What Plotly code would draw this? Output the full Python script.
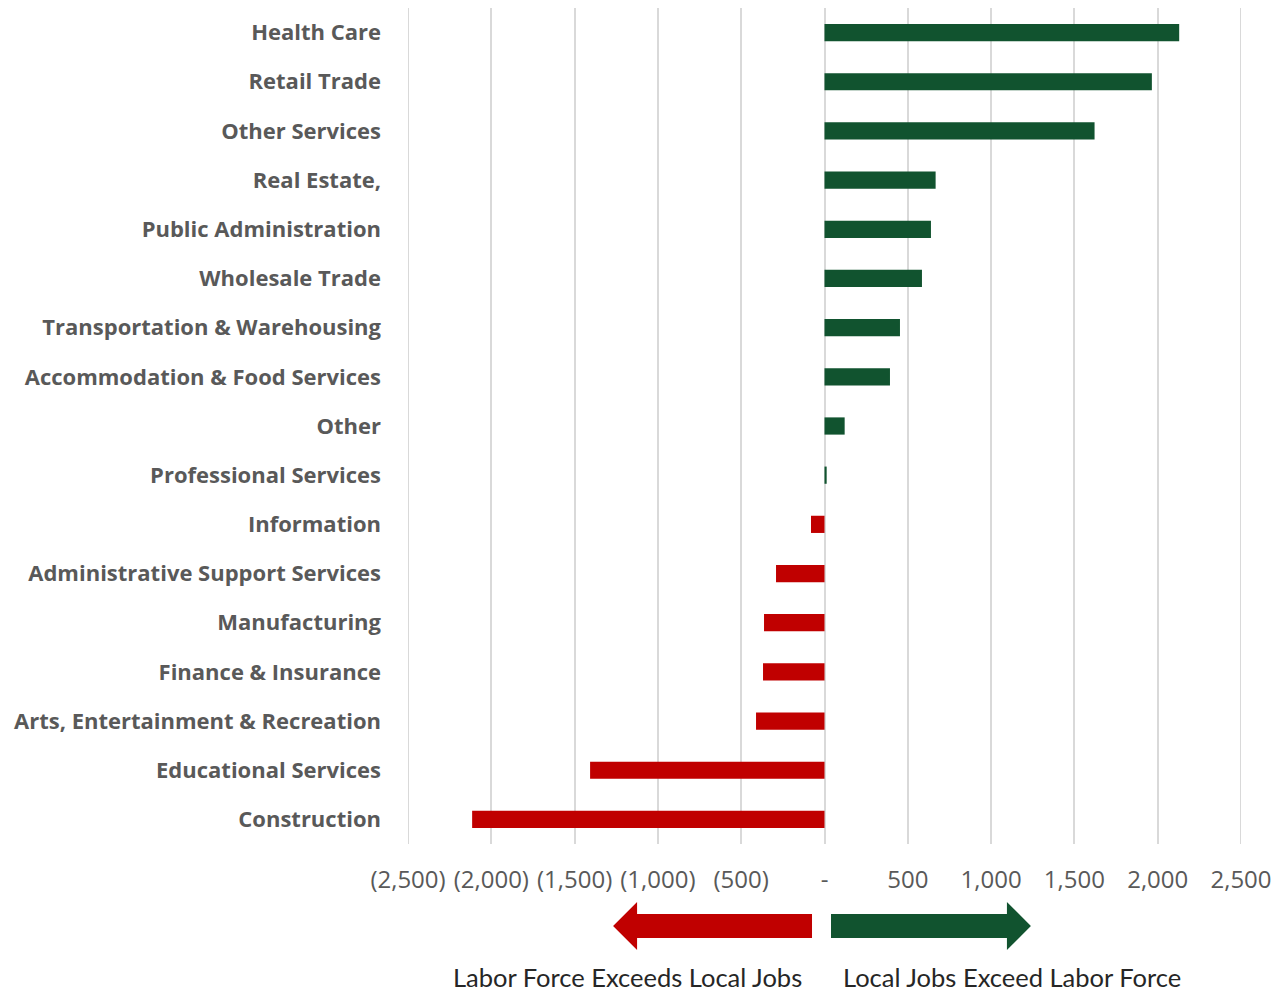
import plotly.graph_objects as go

# Net jobs minus resident labor force, by industry (top to bottom)
industries = [
    "Health Care", "Retail Trade", "Other Services", "Real Estate,",
    "Public Administration", "Wholesale Trade", "Transportation & Warehousing",
    "Accommodation & Food Services", "Other", "Professional Services",
    "Information", "Administrative Support Services", "Manufacturing",
    "Finance & Insurance", "Arts, Entertainment & Recreation",
    "Educational Services", "Construction",
]
net_jobs = [
    2129, 1965, 1621, 667, 639, 585, 453, 393, 121, 13,
    -81, -291, -363, -369, -411, -1407, -2115,
]

tick_values = [-2500, -2000, -1500, -1000, -500, 0, 500, 1000, 1500, 2000, 2500]
tick_labels = ["(2,500)", "(2,000)", "(1,500)", "(1,000)", "(500)", "-",
               "500", "1,000", "1,500", "2,000", "2,500"]

GREEN = "#11532F"
RED = "#C00000"
GRID = "#D9D9D9"
bar_colors = [GREEN if v >= 0 else RED for v in net_jobs]

fig = go.Figure(
    go.Bar(
        x=net_jobs,
        y=industries,
        orientation="h",
        marker=dict(color=bar_colors, line=dict(width=0)),
        width=0.35,
        hoverinfo="x+y",
    )
)

# Direction arrows below the axis
red_arrow = ("M -75,-0.0837 L -1125,-0.0837 L -1125,-0.0694 L -1269,-0.0981 "
             "L -1125,-0.1268 L -1125,-0.1124 L -75,-0.1124 Z")
green_arrow = ("M 39,-0.0837 L 1095,-0.0837 L 1095,-0.0694 L 1239,-0.0981 "
               "L 1095,-0.1268 L 1095,-0.1124 L 39,-0.1124 Z")

# gridlines on the two range edges (not drawn by the axis itself)
edge_lines = [
    dict(type="line", xref="x", yref="paper", x0=v, x1=v, y0=0, y1=1,
         line=dict(color=GRID, width=2), layer="below")
    for v in (tick_values[0], tick_values[-1])
]

fig.update_layout(
    width=1287,
    height=987,
    margin=dict(l=408, r=46, t=8, b=143),
    paper_bgcolor="white",
    plot_bgcolor="white",
    showlegend=False,
    font=dict(family="Open Sans, sans-serif", color="#595959"),
    xaxis=dict(
        range=[-2500, 2500],
        tickvals=tick_values,
        ticktext=tick_labels,
        tickfont=dict(family="Open Sans, sans-serif", size=24, color="#595959"),
        showgrid=True,
        gridcolor=GRID,
        gridwidth=2,
        zeroline=True,
        zerolinecolor=GRID,
        zerolinewidth=2,
        showline=False,
        ticks="",
        ticklabelstandoff=19,
        fixedrange=True,
    ),
    yaxis=dict(
        categoryorder="array",
        categoryarray=industries,
        range=[16.5, -0.5],
        tickfont=dict(family="Open Sans, sans-serif", size=22,
                      color="#595959", weight="bold"),
        showgrid=False,
        showline=False,
        ticks="",
        ticklabelstandoff=26,
        fixedrange=True,
    ),
    shapes=edge_lines + [
        dict(type="path", path=red_arrow, xref="x", yref="paper",
             fillcolor=RED, line=dict(width=0)),
        dict(type="path", path=green_arrow, xref="x", yref="paper",
             fillcolor=GREEN, line=dict(width=0)),
    ],
    annotations=[
        dict(text="Labor Force Exceeds Local Jobs", x=-1180, y=-0.1585,
             xref="x", yref="paper", showarrow=False, xanchor="center",
             yanchor="middle", font=dict(family="Lato, sans-serif", size=25.5,
                                         color="#262626")),
        dict(text="Local Jobs Exceed Labor Force", x=1125, y=-0.1585,
             xref="x", yref="paper", showarrow=False, xanchor="center",
             yanchor="middle", font=dict(family="Lato, sans-serif", size=25.5,
                                         color="#262626")),
    ],
)

fig.write_html("out.html")
